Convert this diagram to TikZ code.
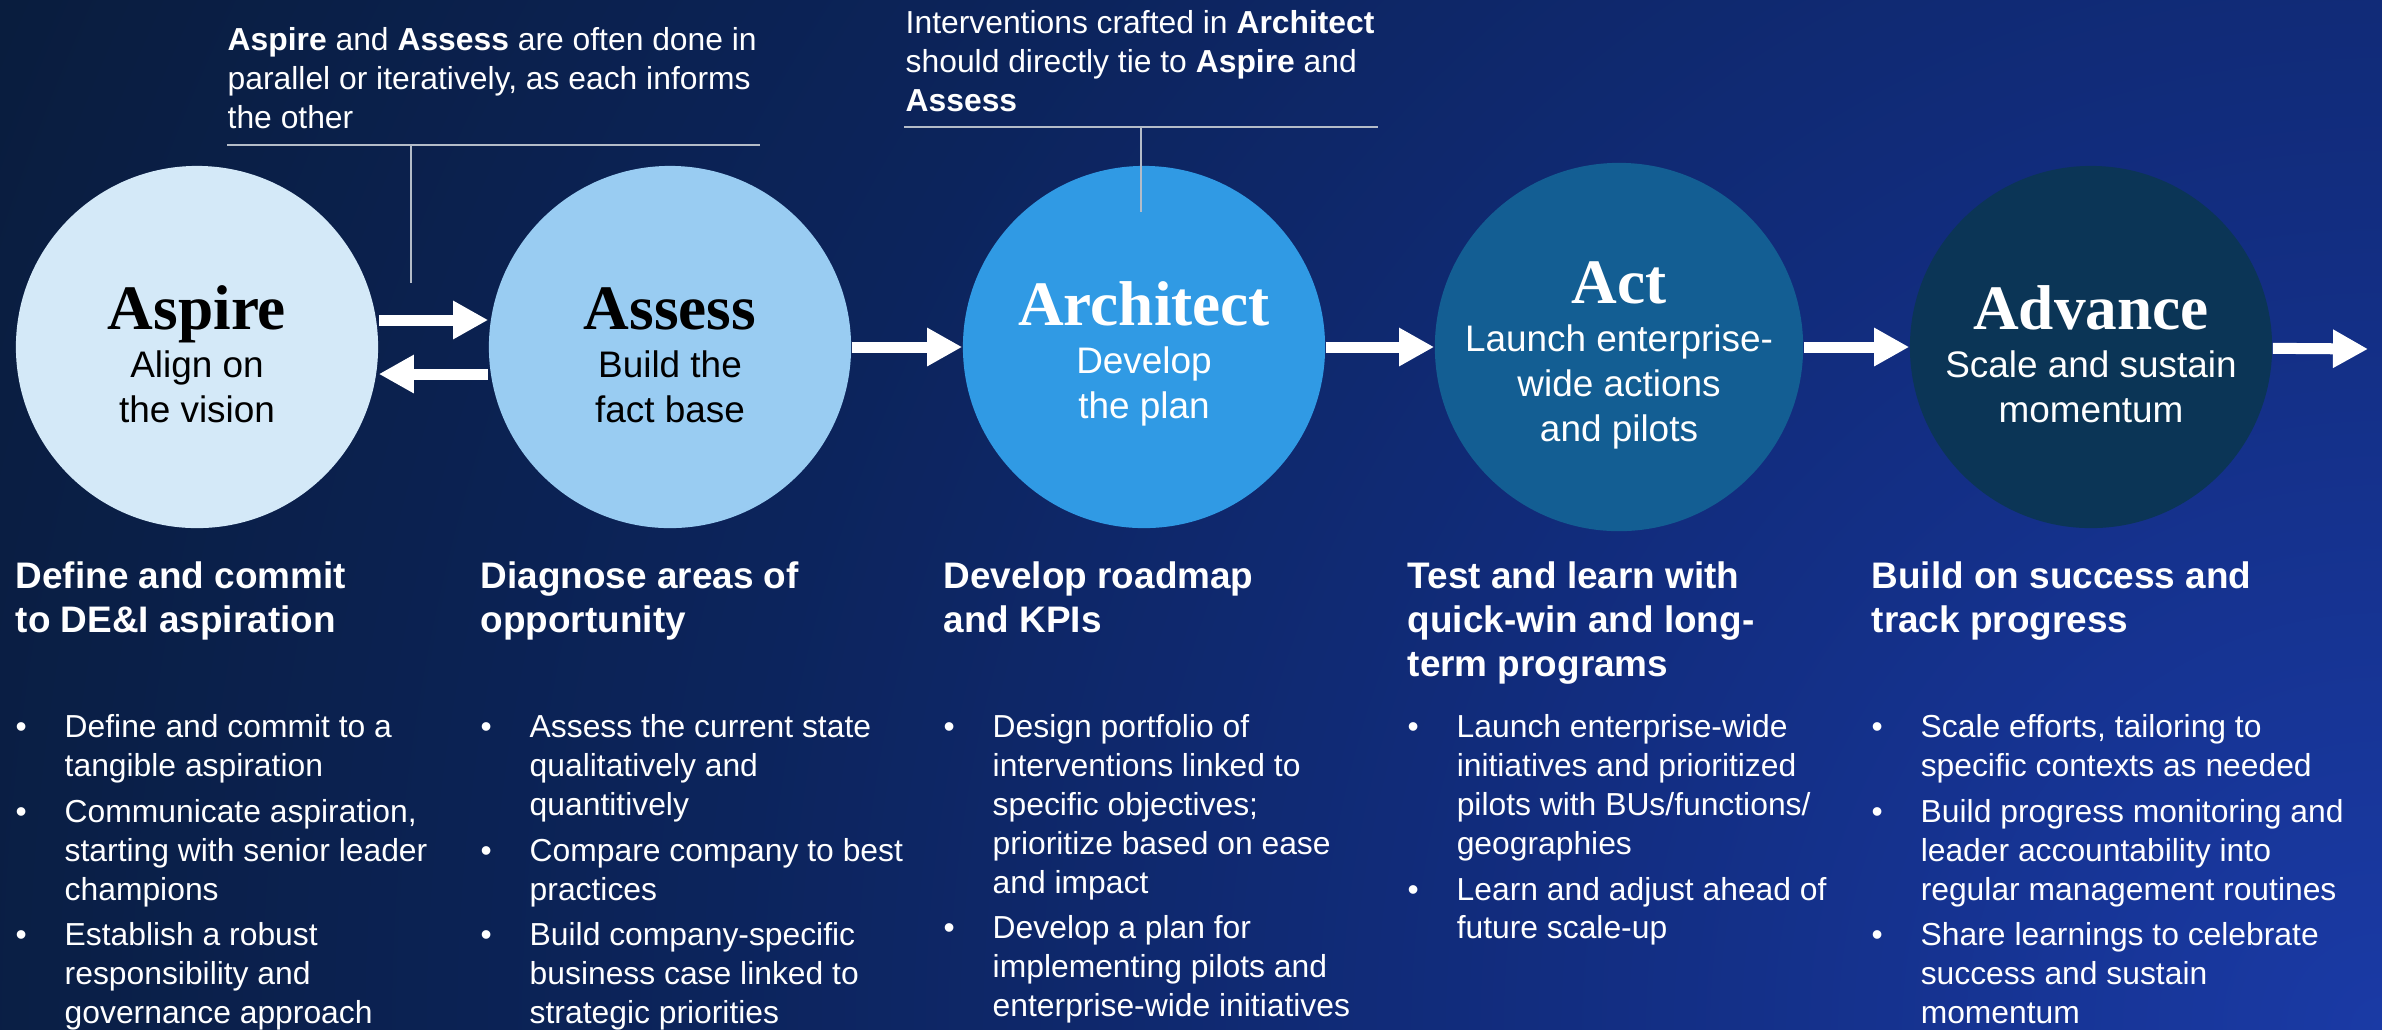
\documentclass[tikz,border=0pt]{standalone}
\usepackage{fontspec}
\setmainfont{Liberation Sans}
\newfontfamily\stagefont{Liberation Serif}
\usetikzlibrary{arrows.meta}

\definecolor{navy}{RGB}{9,28,58}
\definecolor{glowA}{RGB}{26,58,165}
\definecolor{glowB}{RGB}{18,45,128}
\definecolor{glowC}{RGB}{12,36,92}
\definecolor{aspireC}{RGB}{212,233,248}
\definecolor{assessC}{RGB}{153,204,242}
\definecolor{architectC}{RGB}{48,154,228}
\definecolor{actC}{RGB}{19,94,147}
\definecolor{advanceC}{RGB}{11,53,86}
\definecolor{rulegray}{RGB}{180,188,200}

\pgfdeclareradialshading{glow}{\pgfpoint{0bp}{0bp}}{color(0bp)=(glowA); color(8bp)=(glowB); color(16bp)=(glowC); color(26bp)=(navy); color(50bp)=(navy)}

\newcommand\stagename{\stagefont\bfseries\fontsize{18}{20}\selectfont\rule{0pt}{0.58cm}}
\newcommand\bitem{\makebox[0.49cm][l]{\textbullet}}
\newcommand\bcont{\hspace*{0.49cm}}

\tikzset{
  stage/.style={circle,minimum size=3.62cm,inner sep=0pt,align=center,
    font=\fontsize{10.5}{12.8}\selectfont},
  flow/.style={white,line width=0.11cm,-{Triangle[length=0.35cm,width=0.36cm]}},
  note/.style={anchor=north west,inner sep=0pt,align=left,text=white,
    font=\fontsize{9.05}{11.1}\selectfont},
  rule/.style={rulegray,line width=0.6pt},
  head/.style={anchor=north west,inner sep=0pt,align=left,text=white,
    font=\bfseries\fontsize{10.5}{12.5}\selectfont},
  bullets/.style={anchor=north west,inner sep=0pt,align=left,text=white,
    font=\fontsize{9.05}{11.04}\selectfont}
}

\begin{document}
\begin{tikzpicture}[x=0.01cm,y=-0.01cm]
        \useasboundingbox (0,0) rectangle (2382,1029);
        \fill[navy] (0,0) rectangle (2382,1029);
        \begin{scope}
          \clip (0,0) rectangle (2382,1029);
          \shade[shading=glow] (2382,1029) circle[radius=26cm];
        \end{scope}

        % the five stages
        \node[stage,fill=aspireC,text=black] (aspire) at (197,347) {{\stagename Aspire}\\[0.9pt] Align on\\ the vision};
        \node[stage,fill=assessC,text=black] (assess) at (670,347) {{\stagename Assess}\\[0.9pt] Build the\\ fact base};
        \node[stage,fill=architectC,text=white] (architect) at (1144,347) {{\stagename Architect}\\[0.9pt] Develop\\ the plan};
        \node[stage,fill=actC,text=white] (act) at (1619,347) {{\stagename Act}\\[0.9pt] Launch enterprise-\\ wide actions\\ and pilots};
        \node[stage,fill=advanceC,text=white] (advance) at (2091,347) {{\stagename Advance}\\[0.9pt] Scale and sustain\\ momentum};
        \coordinate (out) at (2368,349);

        \draw[flow] ([yshift=2.7mm]aspire.east) -- ([yshift=2.7mm]assess.west);
        \draw[flow] ([yshift=-2.7mm]assess.west) -- ([yshift=-2.7mm]aspire.east);
        \draw[flow] (assess) -- (architect);
        \draw[flow] (architect) -- (act);
        \draw[flow] (act) -- (advance);
        \draw[flow] (advance) -- (out);

        % notes above the circles
        \node[note] (iterate) at (227,27) {\textbf{Aspire} and \textbf{Assess} are often done in\\ parallel or iteratively, as each informs\\ the other};
        \coordinate (iterL) at (227,145);
        \coordinate (iterR) at (760,145);
        \coordinate (iterA) at (411,145);
        \coordinate (iterB) at (411,283);
        \draw[rule] (iterL) -- (iterR);
        \draw[rule] (iterA) -- (iterB);

        \node[note] (tie) at (905,10) {Interventions crafted in \textbf{Architect}\\ should directly tie to \textbf{Aspire} and\\ \textbf{Assess}};
        \coordinate (tieL) at (904,127);
        \coordinate (tieR) at (1378,127);
        \coordinate (tieA) at (1141,127);
        \coordinate (tieB) at (1141,212);
        \draw[rule] (tieL) -- (tieR);
        \draw[rule] (tieA) -- (tieB);

        % headings
        \node[head] (aspire-head) at (15,561) {Define and commit\\ to DE\&I aspiration};
        \node[head] (assess-head) at (480,561) {Diagnose areas of\\ opportunity};
        \node[head] (architect-head) at (943,561) {Develop roadmap\\ and KPIs};
        \node[head] (act-head) at (1407,561) {Test and learn with\\ quick-win and long-\\ term programs};
        \node[head] (advance-head) at (1871,561) {Build on success and\\ track progress};

        % bullet lists
        \node[bullets] (aspire-list) at (15,714) {\bitem Define and commit to a\\ \bcont tangible aspiration\\[2pt]
          \bitem Communicate aspiration,\\ \bcont starting with senior leader\\ \bcont champions\\[2pt]
          \bitem Establish a robust\\ \bcont responsibility and\\ \bcont governance approach};
        \node[bullets] (assess-list) at (480,714) {\bitem Assess the current state\\ \bcont qualitatively and\\ \bcont quantitively\\[2pt]
          \bitem Compare company to best\\ \bcont practices\\[2pt]
          \bitem Build company-specific\\ \bcont business case linked to\\ \bcont strategic priorities};
        \node[bullets] (architect-list) at (943,714) {\bitem Design portfolio of\\ \bcont interventions linked to\\ \bcont specific objectives;\\ \bcont prioritize based on ease\\ \bcont and impact\\[2pt]
          \bitem Develop a plan for\\ \bcont implementing pilots and\\ \bcont enterprise-wide initiatives};
        \node[bullets] (act-list) at (1407,714) {\bitem Launch enterprise-wide\\ \bcont initiatives and prioritized\\ \bcont pilots with BUs/functions/\\ \bcont geographies\\[2pt]
          \bitem Learn and adjust ahead of\\ \bcont future scale-up};
        \node[bullets] (advance-list) at (1871,714) {\bitem Scale efforts, tailoring to\\ \bcont specific contexts as needed\\[2pt]
          \bitem Build progress monitoring and\\ \bcont leader accountability into\\ \bcont regular management routines\\[2pt]
          \bitem Share learnings to celebrate\\ \bcont success and sustain\\ \bcont momentum};
\end{tikzpicture}
\end{document}
